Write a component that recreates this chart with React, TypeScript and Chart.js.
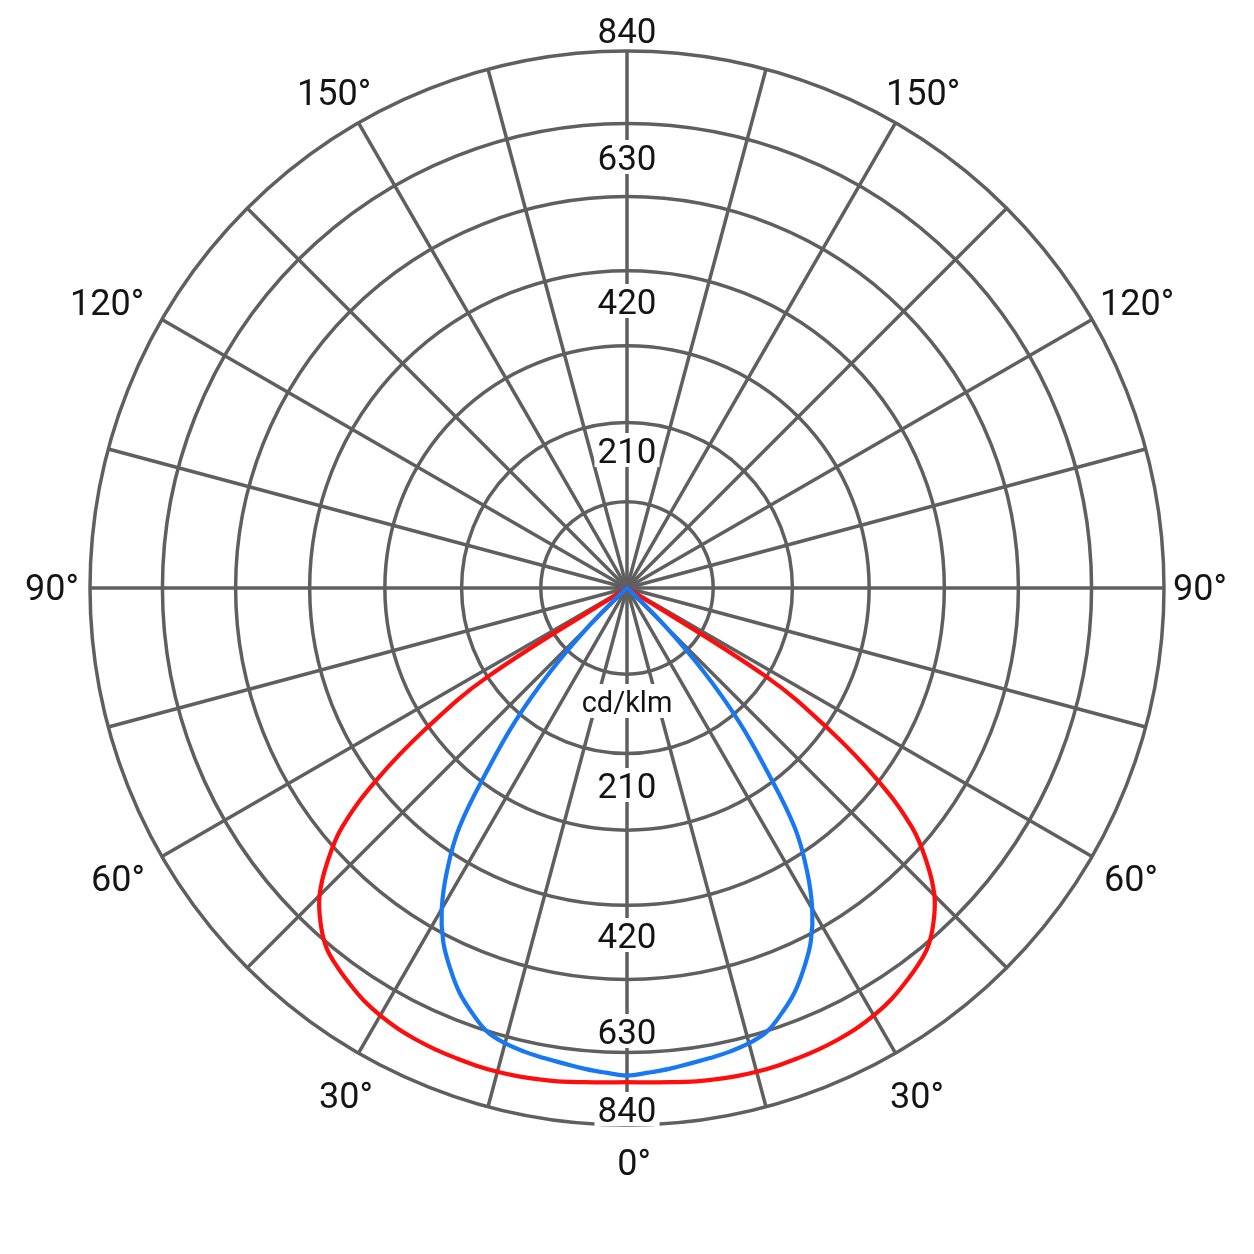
import React, { useEffect, useRef } from 'react';
import { Chart, registerables, RadialLinearScale } from 'chart.js';

Chart.register(...registerables);

// ---- data ----
// gamma angles 0°..180° every 2.5°, luminous intensity in cd/klm (symmetric curves)
const gammaStepDeg = 2.5;
const redValues = [
  769, 770, 772, 775, 777, 779, 780, 780, 779, 778, 776, 773, 768, 761, 751, 740,
  726, 702, 671, 625, 568, 478, 366, 240,
  0, 0, 0, 0, 0, 0, 0, 0, 0, 0, 0, 0, 0, 0, 0, 0, 0, 0, 0, 0, 0, 0, 0, 0, 0,
  0, 0, 0, 0, 0, 0, 0, 0, 0, 0, 0, 0, 0, 0, 0, 0, 0, 0, 0, 0, 0, 0, 0, 0,
];
const blueValues = [
  758, 754, 750, 745, 741, 737, 731, 721, 700, 676, 645, 611, 566, 508, 440, 338,
  252, 160, 72, 12,
  0, 0, 0, 0, 0, 0, 0, 0, 0, 0, 0, 0, 0, 0, 0, 0, 0, 0, 0, 0, 0, 0, 0, 0, 0, 0, 0,
  0, 0, 0, 0, 0, 0, 0, 0, 0, 0, 0, 0, 0, 0, 0, 0, 0, 0, 0, 0, 0, 0, 0, 0, 0, 0,
];
const radialMax = 840;
const ringStep = 120;
const spokeStepDeg = 15;
const topValueLabels = ['840', '630', '420', '210'];
const bottomValueLabels = ['210', '420', '630', '840'];
const unitLabel = 'cd/klm';
const angleTickDegrees = [0, 30, 60, 90, 120, 150];

// ---- layout / style constants ----
const RADIAL_EXPONENT = 0.94;
const GRID_COLOR = '#5f5f5f';
const GRID_WIDTH = 3.5;
const CURVE_WIDTH = 4.2;
const TEXT_COLOR = '#141414';
const FONT_FAMILY = 'Roboto, "Noto Sans", "DejaVu Sans", sans-serif';
const REF_RADIUS = 537;
const TOP_LABEL_OFFSETS = [-558, -431, -287, -138];
const BOTTOM_LABEL_OFFSETS = [197, 347, 443, 521];
const UNIT_LABEL_OFFSET = 113;
// text-centre offsets of the angle labels from the pole (left side, right side)
const ANGLE_LABEL_LEFT = [[7, 574], [-281, 507], [-509, 290], [-575, -1], [-520, -286], [-293, -496]];
const ANGLE_LABEL_RIGHT = [[7, 574], [290, 507], [504, 290], [573, -1], [510, -286], [296, -496]];
const TEXT_Y_NUDGE = 4;

class RadialPowerScale extends RadialLinearScale {
  static id = 'radialPower';
  getDistanceFromCenterForValue(value: number) {
    if (value === null || value === undefined || Number.isNaN(value)) return NaN;
    const t = Math.max(0, (value - this.min) / (this.max - this.min));
    return this.drawingArea * Math.pow(t, RADIAL_EXPONENT);
  }
  getValueForDistanceFromCenter(distance: number) {
    const t = Math.pow(Math.max(0, distance) / this.drawingArea, 1 / RADIAL_EXPONENT);
    return this.min + t * (this.max - this.min);
  }
}
Chart.register(RadialPowerScale);

const pointCount = Math.round(360 / gammaStepDeg);
const spokeEvery = Math.round(spokeStepDeg / gammaStepDeg);
const categories = Array.from({ length: pointCount }, (_, i) => `${i * gammaStepDeg}°`);
const mirror = (half: number[]) =>
  categories.map((_, i) => half[Math.min(i, pointCount - i)]);

const labelPlugin = {
  id: 'photometricLabels',
  beforeDatasetsDraw(chart: any) {
    const scale = chart.scales.r;
    const ctx = chart.ctx as CanvasRenderingContext2D;
    const xc = scale.xCenter;
    const yc = scale.yCenter;
    const R = scale.drawingArea;
    const k = R / REF_RADIUS;
    ctx.save();
    ctx.textAlign = 'center';
    ctx.textBaseline = 'middle';

    const boxed = (text: string, y: number, size: number) => {
      ctx.font = `${size}px ${FONT_FAMILY}`;
      const w = ctx.measureText(text).width;
      ctx.fillStyle = '#ffffff';
      ctx.fillRect(xc - w / 2 - 3, y - 17, w + 6, 34);
      ctx.fillStyle = TEXT_COLOR;
      ctx.fillText(text, xc, y + TEXT_Y_NUDGE);
    };

    topValueLabels.forEach((t, i) => boxed(t, yc + TOP_LABEL_OFFSETS[i] * k, 35));
    bottomValueLabels.forEach((t, i) => boxed(t, yc + BOTTOM_LABEL_OFFSETS[i] * k, 35));
    boxed(unitLabel, yc + UNIT_LABEL_OFFSET * k, 29);

    ctx.font = `36px ${FONT_FAMILY}`;
    ctx.fillStyle = TEXT_COLOR;
    angleTickDegrees.forEach((g, i) => {
      const text = `${g}°`;
      const [lx, ly] = ANGLE_LABEL_LEFT[i];
      ctx.fillText(text, xc + lx * k, yc + ly * k + TEXT_Y_NUDGE);
      if (g !== 0) {
        const [rx, ry] = ANGLE_LABEL_RIGHT[i];
        ctx.fillText(text, xc + rx * k, yc + ry * k + TEXT_Y_NUDGE);
      }
    });
    ctx.restore();
  },
};

export default function App() {
  const canvasRef = useRef<HTMLCanvasElement | null>(null);

  useEffect(() => {
    if (!canvasRef.current) return;
    const chart = new Chart(canvasRef.current, {
      type: 'radar',
      data: {
        labels: categories,
        datasets: [
          {
            label: 'C90-C270',
            data: mirror(blueValues),
            borderColor: '#1877f2',
            borderWidth: CURVE_WIDTH,
            pointRadius: 0,
            pointHoverRadius: 0,
            fill: false,
            tension: 0.4,
          },
          {
            label: 'C0-C180',
            data: mirror(redValues),
            borderColor: '#ff0d0d',
            borderWidth: CURVE_WIDTH,
            pointRadius: 0,
            pointHoverRadius: 0,
            fill: false,
            tension: 0.4,
          },
        ],
      },
      options: {
        animation: false,
        responsive: false,
        devicePixelRatio: 1,
        layout: { padding: { left: 90, right: 90, top: 51, bottom: 129 } },
        plugins: { legend: { display: false }, tooltip: { enabled: false } },
        elements: { line: { borderJoinStyle: 'round', borderCapStyle: 'round' } },
        scales: {
          r: {
            type: 'radialPower',
            min: 0,
            max: radialMax,
            startAngle: 180,
            ticks: { display: false, stepSize: ringStep },
            grid: { circular: true, color: GRID_COLOR, lineWidth: GRID_WIDTH },
            angleLines: {
              display: true,
              color: GRID_COLOR,
              lineWidth: (c: any) => (c.index % spokeEvery === 0 ? GRID_WIDTH : 0),
            },
            pointLabels: { display: false },
          },
        },
      } as any,
      plugins: [labelPlugin],
    });
    return () => chart.destroy();
  }, []);

  return (
    <div style={{ position: 'fixed', left: 0, top: 0, width: 1254, height: 1254, background: '#ffffff' }}>
      <canvas ref={canvasRef} width={1254} height={1254} style={{ width: 1254, height: 1254, display: 'block' }} />
    </div>
  );
}
